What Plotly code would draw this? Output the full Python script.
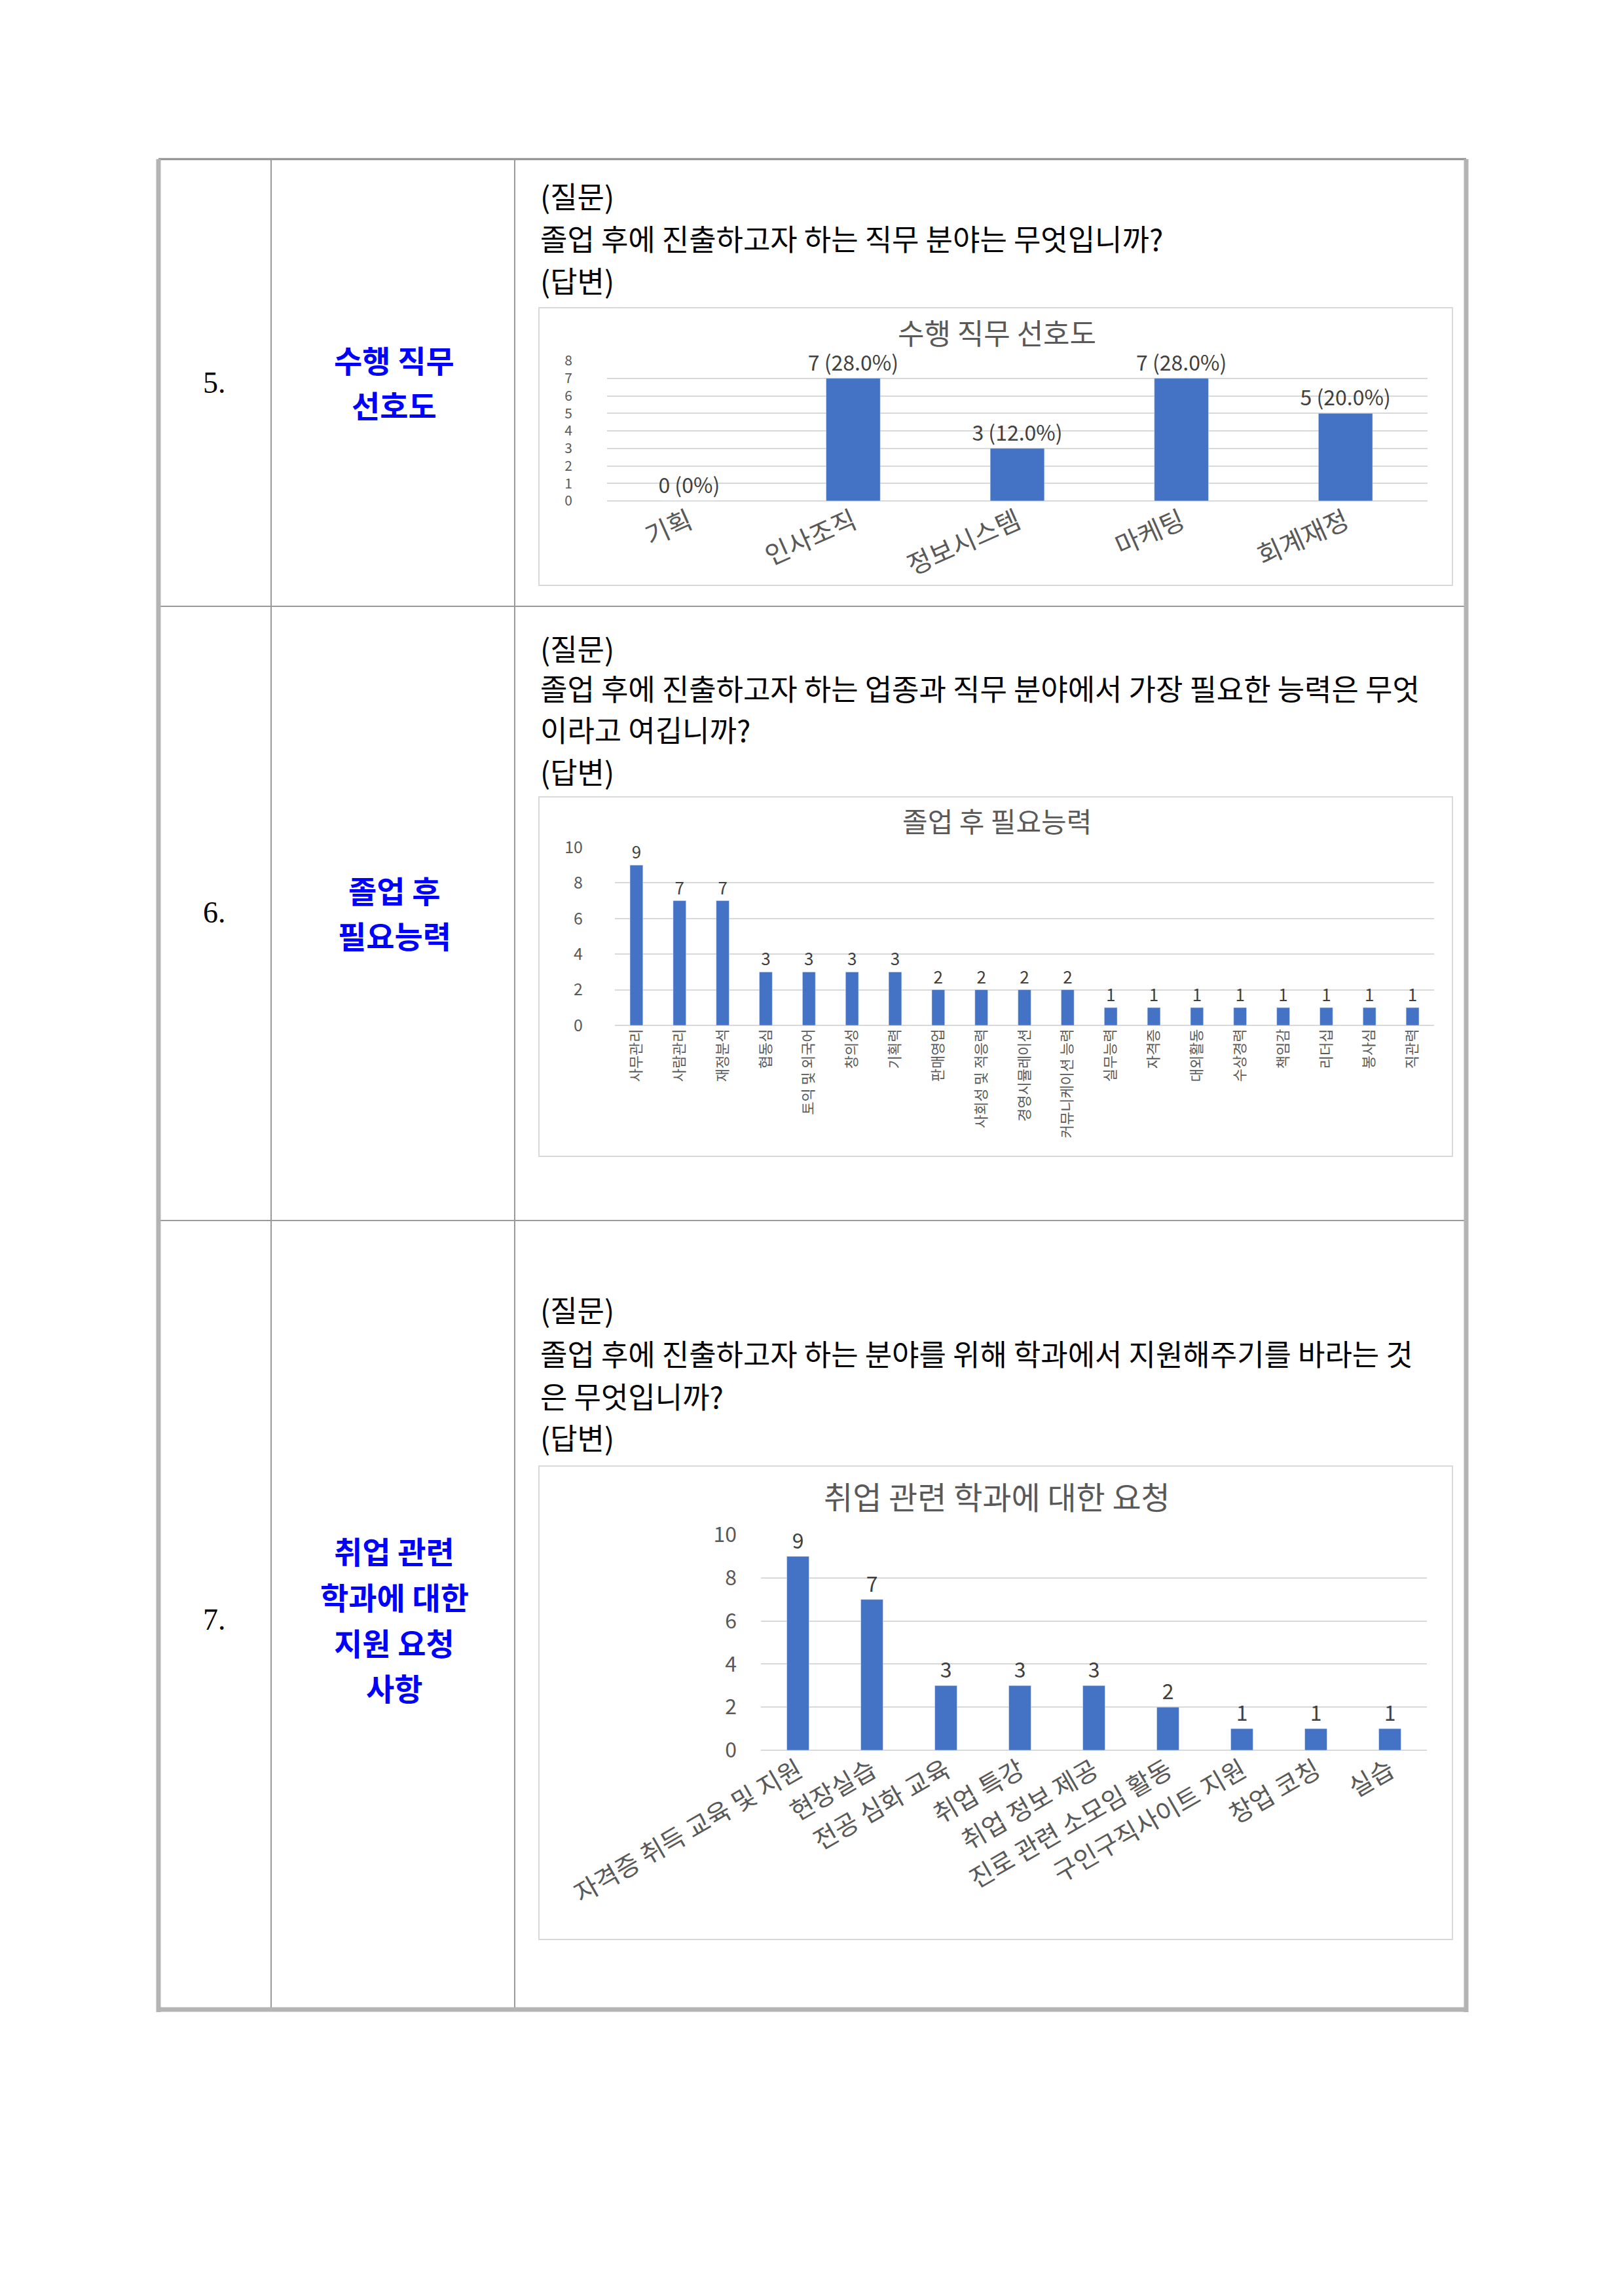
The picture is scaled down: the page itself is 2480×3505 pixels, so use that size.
import plotly.graph_objects as go

# --- data -------------------------------------------------------------
job_categories = ['기획', '인사조직', '정보시스템', '마케팅', '회계재정']
job_counts = [0, 7, 3, 7, 5]
respondents = 25  # the percentages in the chart are out of 25 answers

skill_categories = ['사무관리', '사람관리', '재정분석', '협동심', '토익 및 외국어', '창의성', '기획력',
                    '판매영업', '사회성 및 적응력', '경영시뮬레이션', '커뮤니케이션 능력',
                    '실무능력', '자격증', '대외활동', '수상경력', '책임감', '리더십', '봉사심', '직관력']
skill_counts = [9, 7, 7, 3, 3, 3, 3, 2, 2, 2, 2, 1, 1, 1, 1, 1, 1, 1, 1]

request_categories = ['자격증 취득 교육 및 지원', '현장실습', '전공 심화 교육', '취업 특강', '취업 정보 제공',
                      '진로 관련 소모임 활동', '구인구직사이트 지원', '창업 코칭', '실습']
request_counts = [9, 7, 3, 3, 3, 2, 1, 1, 1]

rows = [
    dict(num='5.', title=['수행 직무', '선호도'],
         text=['(질문)', '졸업 후에 진출하고자 하는 직무 분야는 무엇입니까?', '(답변)']),
    dict(num='6.', title=['졸업 후', '필요능력'],
         text=['(질문)', '졸업 후에 진출하고자 하는 업종과 직무 분야에서 가장 필요한 능력은 무엇',
               '이라고 여깁니까?', '(답변)']),
    dict(num='7.', title=['취업 관련', '학과에 대한', '지원 요청', '사항'],
         text=['(질문)', '졸업 후에 진출하고자 하는 분야를 위해 학과에서 지원해주기를 바라는 것',
               '은 무엇입니까?', '(답변)']),
]
chart_titles = ['수행 직무 선호도', '졸업 후 필요능력', '취업 관련 학과에 대한 요청']

# --- page geometry (pixels) ------------------------------------------
W, H = 2480, 3505
OFF = 8  # the page body adds an 8px margin around the figure
def px(x):
    return (x - OFF) / W
def py(y):
    return 1 - (y - OFF) / H

KR = 'Noto Sans CJK KR'
BAR = '#4472C4'
GREY = '#595959'

fig = go.Figure()

job_labels = [f'{v} ({v / respondents * 100:.1f}%)' if v else f'{v} (0%)' for v in job_counts]

bar_sets = [(job_categories, job_counts, job_labels, 32, 0.33),
            (skill_categories, skill_counts, skill_counts, 26, 0.3),
            (request_categories, request_counts, request_counts, 32, 0.3)]
for i, (cats, vals, labels, tsize, bw) in enumerate(bar_sets):
    sx = '' if i == 0 else str(i + 1)
    fig.add_trace(go.Bar(x=cats, y=vals, text=labels, textposition='outside',
                         constraintext='none', cliponaxis=False,
                         textfont=dict(family=KR, size=tsize, color='#404040'),
                         marker_color=BAR, width=bw, xaxis='x' + sx, yaxis='y' + sx))

# plot areas: (left, right, top, bottom) in pixels
areas = [(927, 2180, 551, 765), (939, 2190, 1294, 1566), (1162, 2179, 2344, 2673)]
y_ranges = [(0, 8, 1), (0, 10, 2), (0, 10, 2)]
tick_sizes = [21, 25, 32]
label_sizes = [40, 22, 39]
label_angles = [-24, -90, -30]
standoffs = [52, 48, 36]

layout_axes = {}
for i, (l, r, t, b) in enumerate(areas):
    sx = '' if i == 0 else str(i + 1)
    lo, hi, dt = y_ranges[i]
    layout_axes['xaxis' + sx] = dict(
        domain=[px(l), px(r)], anchor='y' + sx, type='category', showgrid=False,
        showline=False, ticks='', tickangle=label_angles[i], automargin=False,
        tickfont=dict(family=KR, size=label_sizes[i], color=GREY))
    layout_axes['yaxis' + sx] = dict(
        domain=[py(b), py(t)], anchor='x' + sx, range=[lo, hi], dtick=dt,
        showgrid=True, gridcolor='#d9d9d9', gridwidth=2, zeroline=True,
        zerolinecolor='#d9d9d9', zerolinewidth=2, showline=False, ticks='',
        ticklabelstandoff=standoffs[i], automargin=False,
        tickfont=dict(family=KR, size=tick_sizes[i], color=GREY))

shapes = []
# chart frames
frames = [(823, 470, 2218, 894), (823, 1217, 2218, 1766), (823, 2239, 2218, 2962)]
for (x0, y0, x1, y1) in frames:
    shapes.append(dict(type='rect', xref='paper', yref='paper', x0=px(x0), x1=px(x1),
                       y0=py(y1), y1=py(y0), line=dict(color='#d9d9d9', width=2),
                       fillcolor='rgba(0,0,0,0)', layer='below'))

# table lines
def hline(y, x0, x1, color, width):
    shapes.append(dict(type='line', xref='paper', yref='paper', x0=px(x0), x1=px(x1),
                       y0=py(y), y1=py(y), line=dict(color=color, width=width)))
def vline(x, y0, y1, color, width):
    shapes.append(dict(type='line', xref='paper', yref='paper', x0=px(x), x1=px(x),
                       y0=py(y0), y1=py(y1), line=dict(color=color, width=width)))

TOP, BOT, LEFT, RIGHT = 243, 3069, 242, 2239
hline(TOP, LEFT, RIGHT, '#8c8c8c', 3)
hline(926, LEFT, RIGHT, '#9a9a9a', 2)
hline(1864, LEFT, RIGHT, '#9a9a9a', 2)
vline(414, TOP, BOT, '#9a9a9a', 2)
vline(786, TOP, BOT, '#9a9a9a', 2)
vline(LEFT, TOP, BOT + 4, '#b4b4b4', 7)
vline(RIGHT, TOP, BOT + 4, '#b4b4b4', 7)
hline(BOT, LEFT - 3, RIGHT + 3, '#b4b4b4', 7)

annotations = []
def note(x, y, s, size, color='black', family=KR, xanchor='center', weight='normal'):
    annotations.append(dict(x=px(x), y=py(y), xref='paper', yref='paper', text=s, showarrow=False,
                            xanchor=xanchor, yanchor='middle',
                            font=dict(family=family, size=size, color=color, weight=weight)))

num_y = [584, 1393, 2473]
title_y = [[548, 618], [1358, 1427], [2367, 2437, 2507, 2576]]
text_y = [[298, 363, 427], [989, 1050, 1114, 1177], [1999, 2066, 2131, 2194]]
for i, row in enumerate(rows):
    note(327, num_y[i], row['num'], 46, family='Liberation Serif')
    for s, y in zip(row['title'], title_y[i]):
        note(602, y, s, 47, color='#0000ff', weight='bold')
    for s, y in zip(row['text'], text_y[i]):
        note(823, y, s, 45, xanchor='left')

for s, y, size in zip(chart_titles, [507, 1253, 2284], [44, 42, 48]):
    note(1522, y, s, size, color=GREY)

fig.update_layout(
    width=W, height=H, margin=dict(l=0, r=0, t=0, b=0, autoexpand=False),
    paper_bgcolor='white', plot_bgcolor='white', showlegend=False,
    shapes=shapes, annotations=annotations, **layout_axes)

fig.write_html('out.html')
